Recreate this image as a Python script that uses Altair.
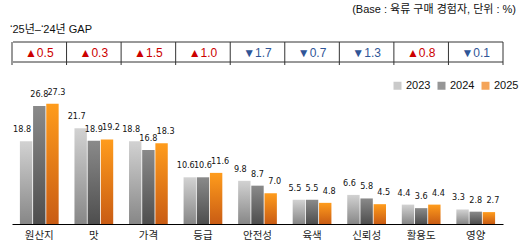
import altair as alt
import pandas as pd

categories = ["원산지", "맛", "가격", "등급", "안전성", "육색", "신뢰성", "활용도", "영양"]
years = ["2023", "2024", "2025"]
v2023 = [18.8, 21.7, 18.8, 10.6, 9.8, 5.5, 6.6, 4.4, 3.3]
v2024 = [26.8, 18.9, 16.8, 10.6, 8.7, 5.5, 5.8, 3.6, 2.8]
v2025 = [27.3, 19.2, 18.3, 11.6, 7.0, 4.8, 4.5, 4.4, 2.7]
note_text = "(Base : 육류 구매 경험자, 단위 : %)"
gap_title = "‘25년–‘24년 GAP"

W, H, YMAX = 491, 182, 41.3

rows = []
for c, a, b, d in zip(categories, v2023, v2024, v2025):
    rows += [{"cat": c, "year": "2023", "value": a},
             {"cat": c, "year": "2024", "value": b},
             {"cat": c, "year": "2025", "value": d}]
df = pd.DataFrame(rows)

gaps = [round(d - b, 1) for b, d in zip(v2024, v2025)]
gap_df = pd.DataFrame({
    "cat": categories,
    "gap": gaps,
    "label": [("▲" if g > 0 else "▼") + f"{abs(g):.1f}" for g in gaps],
})

xscale = alt.Scale(domain=categories, paddingInner=0, paddingOuter=0)
xaxis = alt.Axis(domainColor="black", domainWidth=1.2, ticks=False, labelFont="Noto Sans CJK KR",
                 labelFontSize=10.5, labelColor="#222222", labelPadding=6, labelAngle=0,
                 grid=False, title=None)
X = alt.X("cat:N", scale=xscale, sort=categories, axis=xaxis, title=None)
XO = alt.XOffset("year:N", scale=alt.Scale(domain=years, paddingInner=0.06, paddingOuter=0.6))
Y = alt.Y("value:Q", scale=alt.Scale(domain=[0, YMAX], nice=False, zero=True), axis=None)

grads = {
    "2023": ("#d2d2d2", "#878787"),
    "2024": ("#8a8a8a", "#4e4e4e"),
    "2025": ("#ff9c1c", "#c95c14"),
}
dxs = {"2023": -4, "2024": 0, "2025": 4}

layers = []

# table rules
rule_color = "#333333"
hl_top = alt.Chart(pd.DataFrame({"a": [0]})).mark_rule(color=rule_color, strokeWidth=1).encode(
    x=alt.value(1), x2=alt.value(W), y=alt.value(0))
hl_bot = alt.Chart(pd.DataFrame({"a": [0]})).mark_rule(color=rule_color, strokeWidth=1).encode(
    x=alt.value(1), x2=alt.value(W), y=alt.value(20))
vl = alt.Chart(gap_df).mark_rule(color=rule_color, strokeWidth=1).encode(
    x=alt.X("cat:N", scale=xscale, sort=categories, axis=xaxis, title=None, bandPosition=0),
    y=alt.value(0), y2=alt.value(23))
vl_end = alt.Chart(pd.DataFrame({"a": [0]})).mark_rule(color=rule_color, strokeWidth=1).encode(
    x=alt.value(W), y=alt.value(0), y2=alt.value(23))
gap_text = alt.Chart(gap_df).mark_text(fontSize=12, font="Liberation Sans", baseline="middle").encode(
    x=X, y=alt.value(10.5), text="label:N",
    color=alt.condition(alt.datum.gap > 0, alt.value("#cc0000"), alt.value("#2f5597")))
layers += [hl_top, hl_bot, vl, vl_end, gap_text]

# titles
t1 = alt.Chart(pd.DataFrame({"t": [gap_title]})).mark_text(
    fontSize=11, font="Liberation Sans, Noto Sans CJK KR", align="left", baseline="middle", color="#111111"
).encode(x=alt.value(-2), y=alt.value(-12), text="t:N")
t2 = alt.Chart(pd.DataFrame({"t": [note_text]})).mark_text(
    fontSize=11, font="Liberation Sans, Noto Sans CJK KR", align="right", baseline="middle", color="#111111"
).encode(x=alt.value(W + 13), y=alt.value(-32), text="t:N")
layers += [t1, t2]

bars, texts = [], []
for y in years:
    top, bot = grads[y]
    g = alt.Gradient(gradient="linear", stops=[alt.GradientStop(color=top, offset=0),
                                               alt.GradientStop(color=bot, offset=1)],
                     x1=0, x2=0, y1=0, y2=1)
    base = alt.Chart(df).transform_filter(alt.datum.year == y)
    bars.append(base.mark_bar(fill=g).encode(x=X, xOffset=XO, y=Y))
    texts.append(base.mark_text(fontSize=9, font="Liberation Sans Narrow, DejaVu Sans Condensed, Liberation Sans",
                                baseline="alphabetic", dy=-9, dx=dxs[y], color="#111111").encode(
        x=X, xOffset=XO, y=Y, text=alt.Text("value:Q", format=".1f")))
layers += bars + texts

legend_layer = alt.Chart(pd.DataFrame({"year": years})).transform_filter("false").mark_square().encode(
    color=alt.Color("year:N", scale=alt.Scale(domain=years, range=["#b4b4b4", "#6a6a6a", "#f07d12"]),
                    legend=alt.Legend(orient="none", legendX=380, legendY=38, direction="horizontal",
                                      title=None, symbolType="square", symbolSize=64, labelFontSize=11,
                                      labelFont="Liberation Sans", labelColor="#111111", labelOffset=3,
                                      columnPadding=5, padding=0, symbolStrokeWidth=0)))
layers.append(legend_layer)

chart = alt.layer(*layers).properties(
    width=W, height=H,
    autosize=alt.AutoSizeParams(type="none"),
    padding={"left": 12, "top": 42, "right": 19, "bottom": 26},
).configure_view(stroke=None)

chart.save("out.html", embed_options={"renderer": "svg", "actions": False})
